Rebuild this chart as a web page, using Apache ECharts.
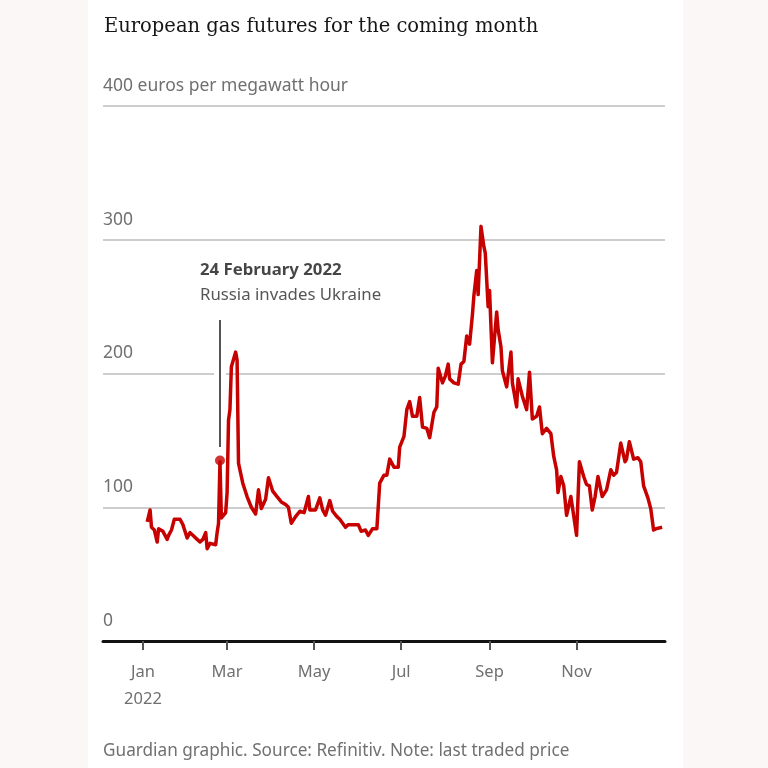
<!DOCTYPE html>
<html>
<head>
<meta charset="utf-8">
<script src="https://cdn.jsdelivr.net/npm/echarts@6/dist/echarts.min.js"></script>
<style>
  html, body { margin: 0; padding: 0; }
  body { width: 768px; height: 768px;
    background: linear-gradient(to right, #fbf7f7 0, #fbf7f7 88px, #ffffff 88px, #ffffff 683px, #fbf7f7 683px); }
  #chart { width: 768px; height: 768px; }
</style>
</head>
<body>
<div id="chart"></div>
<script>
// ---- data ----
const titleText = 'European gas futures for the coming month';
const footerText = 'Guardian graphic. Source: Refinitiv. Note: last traded price';

const dates = [
  '2022-01-04','2022-01-06','2022-01-07','2022-01-09','2022-01-11','2022-01-12','2022-01-15','2022-01-18','2022-01-19','2022-01-21',
  '2022-01-23','2022-01-27','2022-01-29','2022-02-01','2022-02-03','2022-02-05','2022-02-08','2022-02-10','2022-02-12','2022-02-14',
  '2022-02-15','2022-02-17','2022-02-21','2022-02-22','2022-02-23','2022-02-24','2022-02-25','2022-02-28','2022-03-01','2022-03-02',
  '2022-03-03','2022-03-04','2022-03-07','2022-03-08','2022-03-09','2022-03-10','2022-03-12','2022-03-15','2022-03-18','2022-03-21',
  '2022-03-23','2022-03-25','2022-03-28','2022-03-30','2022-04-02','2022-04-05','2022-04-08','2022-04-11','2022-04-13','2022-04-15',
  '2022-04-18','2022-04-21','2022-04-24','2022-04-27','2022-04-28','2022-05-02','2022-05-05','2022-05-07','2022-05-09','2022-05-12',
  '2022-05-14','2022-05-17','2022-05-19','2022-05-23','2022-05-25','2022-05-29','2022-06-01','2022-06-03','2022-06-06','2022-06-08',
  '2022-06-11','2022-06-14','2022-06-16','2022-06-19','2022-06-21','2022-06-23','2022-06-26','2022-06-29','2022-06-30','2022-07-03',
  '2022-07-05','2022-07-07','2022-07-09','2022-07-12','2022-07-14','2022-07-16','2022-07-19','2022-07-21','2022-07-24','2022-07-26',
  '2022-07-27','2022-07-28','2022-07-30','2022-08-01','2022-08-03','2022-08-04','2022-08-07','2022-08-10','2022-08-12','2022-08-14',
  '2022-08-16','2022-08-18','2022-08-20','2022-08-21','2022-08-23','2022-08-24','2022-08-26','2022-08-28','2022-08-29','2022-08-31',
  '2022-09-01','2022-09-03','2022-09-06','2022-09-07','2022-09-09','2022-09-10','2022-09-13','2022-09-16','2022-09-17','2022-09-20',
  '2022-09-21','2022-09-24','2022-09-27','2022-09-29','2022-10-01','2022-10-04','2022-10-06','2022-10-08','2022-10-11','2022-10-14',
  '2022-10-16','2022-10-18','2022-10-19','2022-10-21','2022-10-23','2022-10-25','2022-10-28','2022-11-01','2022-11-03','2022-11-06',
  '2022-11-08','2022-11-10','2022-11-12','2022-11-14','2022-11-16','2022-11-19','2022-11-22','2022-11-25','2022-11-27','2022-11-29',
  '2022-12-02','2022-12-05','2022-12-06','2022-12-08','2022-12-11','2022-12-14','2022-12-16','2022-12-18','2022-12-21','2022-12-23',
  '2022-12-25','2022-12-27','2022-12-31'
];
const prices = [
  89,98,85,83,74,84,82,76,79,83,
  91,91,87,77,81,79,76,74,76,81,
  69,73,72,81,88,134,92,96,111,165,
  173,205,216,210,133,128,118,108,100,95,
  113,99,106,122,112,108,104,102,100,88,
  93,97,96,108,98,98,107,98,94,105,
  97,93,91,85,87,87,87,82,83,79,
  84,84,118,124,124,136,130,130,145,153,
  173,179,168,168,182,160,159,152,171,175,
  204,205,193,198,207,196,193,192,207,209,
  228,222,244,258,277,259,310,295,290,250,
  262,208,246,233,220,202,190,216,193,175,
  196,183,173,201,166,168,175,155,159,155,
  138,128,111,123,116,94,108,79,134,123,
  117,116,98,108,123,108,113,128,124,126,
  148,134,136,149,136,137,134,116,107,99,
  83,84,85
];

const xTickDates = ['2022-01-01','2022-03-01','2022-05-01','2022-07-01','2022-09-01','2022-11-01'];
const xTickLabels = ['Jan\n2022','Mar','May','Jul','Sep','Nov'];
const xMinDate = '2021-12-04';
const xMaxDate = '2023-01-02';

const yTickValues = [0, 100, 200, 300, 400];
const yTickLabels = ['0', '100', '200', '300', '400 euros per megawatt hour'];

const eventDate = '2022-02-24';
const eventValue = 135;
const eventLineRange = [240, 145];
const eventLabelValue = 268;
const eventTitle = '24 February 2022';
const eventText = 'Russia invades Ukraine';

// ---- helpers ----
function ts(s) { const p = s.split('-').map(Number); return Date.UTC(p[0], p[1] - 1, p[2]); }
const seriesData = dates.map((d, i) => [ts(d), prices[i]]);
const xTickTs = xTickDates.map(ts);

const sans = '"Noto Sans", "DejaVu Sans", sans-serif';
const grey = '#707070';
const red = '#c70000';

const chart = echarts.init(document.getElementById('chart'), null, { renderer: 'canvas' });
chart.setOption({
  animation: false,
  backgroundColor: 'transparent',
  title: [
    { text: titleText, left: 99, top: 12,
      textStyle: { fontFamily: '"DejaVu Serif", "Liberation Serif", serif', fontSize: 19.5, fontWeight: 'normal', color: '#161616' } },
    { text: footerText, left: 98, top: 738,
      textStyle: { fontFamily: sans, fontSize: 17.2, fontWeight: 'normal', color: grey } }
  ],
  grid: { left: 103, right: 103, top: 106, bottom: 127, containLabel: false },
  xAxis: {
    type: 'value',
    min: ts(xMinDate), max: ts(xMaxDate),
    axisLine: { show: true, onZero: false, lineStyle: { color: '#121212', width: 3 } },
    axisTick: { show: true, length: 9, lineStyle: { color: '#555555', width: 2 }, customValues: xTickTs },
    axisLabel: {
      customValues: xTickTs,
      margin: 18,
      fontFamily: sans, fontSize: 16.5, color: grey, lineHeight: 27, align: 'center',
      formatter: function (v) {
        for (let i = 0; i < xTickTs.length; i++) if (Math.abs(xTickTs[i] - v) < 43200000) return xTickLabels[i];
        return '';
      }
    },
    splitLine: { show: false },
    minorTick: { show: false }
  },
  yAxis: {
    type: 'value', min: 0, max: 400, interval: 100,
    axisLine: { show: false }, axisTick: { show: false },
    splitLine: { show: true, lineStyle: { color: '#bdbdbd', width: 1.5 } },
    axisLabel: {
      inside: true, margin: 0, align: 'left', verticalAlign: 'bottom', lineHeight: 40,
      fontFamily: sans, fontSize: 17.5, color: grey, showMaxLabel: true, showMinLabel: true,
      formatter: function (v) { const i = yTickValues.indexOf(v); return i >= 0 ? yTickLabels[i] : ''; }
    }
  },
  series: [
    {
      type: 'line', name: 'price', data: seriesData, symbol: 'none', smooth: false,
      lineStyle: { color: red, width: 3.5, join: 'round' }, z: 3
    },
    {
      type: 'scatter', name: 'event', z: 2,
      data: [[ts(eventDate), eventLabelValue]],
      symbolSize: 0, silent: true,
      label: {
        show: true, position: 'right', distance: 0, offset: [-20, 0],
        formatter: '{b|' + eventTitle + '}\n{r|' + eventText + '}',
        rich: {
          b: { fontFamily: sans, fontSize: 16.8, fontWeight: 'bold', color: '#161616', lineHeight: 25 },
          r: { fontFamily: sans, fontSize: 16.8, color: '#2a2a2a', lineHeight: 25 }
        }
      },
      markLine: {
        silent: true, symbol: ['none', 'none'], label: { show: false }, animation: false,
        data: [
          [{ coord: [ts(eventDate), eventLineRange[0]], lineStyle: { color: '#ffffff', width: 12, type: 'solid' } },
           { coord: [ts(eventDate), eventLineRange[1]] }],
          [{ coord: [ts(eventDate), eventLineRange[0]], lineStyle: { color: '#555555', width: 2, type: 'solid' } },
           { coord: [ts(eventDate), eventLineRange[1]] }]
        ]
      }
    },
    {
      type: 'scatter', name: 'eventDot', z: 4, silent: true,
      data: [[ts(eventDate), eventValue]],
      symbol: 'circle', symbolSize: 10,
      itemStyle: { color: red }
    }
  ]
});
</script>
</body>
</html>
